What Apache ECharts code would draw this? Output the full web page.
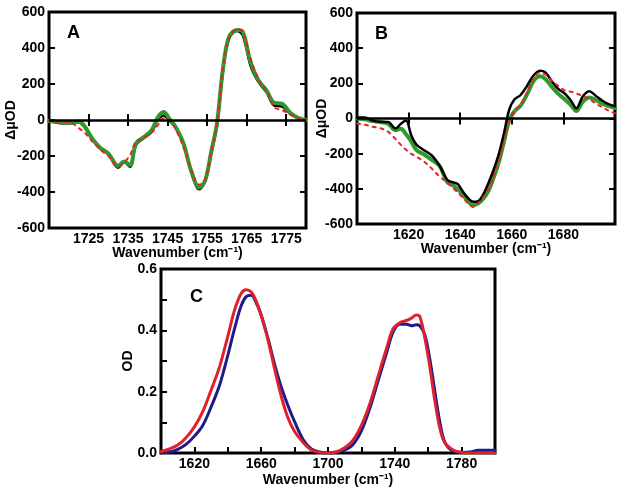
<!DOCTYPE html>
<html>
<head>
<meta charset="utf-8">
<script src="https://cdn.jsdelivr.net/npm/echarts@6/dist/echarts.min.js"></script>
<style>
html,body{margin:0;padding:0;background:#fff;}
#chart{width:624px;height:494px;}
</style>
</head>
<body>
<div id="chart"></div>
<script>
// ---------- Panel A data ----------
const aX = [1715,1717,1719,1721,1722.5,1724,1726,1728,1730,1732.5,1734,1735.5,1737,1739,1741,1742.5,1744,1745.5,1747,1749,1751,1753,1754.5,1756,1757.5,1759,1760.5,1762.5,1764,1766,1768,1770,1772,1774,1776,1778,1780];
const aBlack = [-5,-15,-18,-18,-12,-40,-110,-160,-190,-265,-235,-260,-140,-100,-65,0,25,-5,-40,-135,-290,-385,-340,-190,-30,270,450,495,470,300,210,155,80,75,35,10,0];
const aGreen = [-5,-10,-15,-15,-8,-35,-105,-155,-185,-255,-230,-250,-130,-95,-55,15,45,5,-38,-130,-285,-375,-335,-180,-15,285,460,500,490,320,220,165,95,90,40,12,0];
const aRed   = [-5,-10,-10,-20,-45,-70,-120,-165,-200,-255,-235,-195,-120,-100,-70,-30,10,0,-50,-150,-280,-360,-330,-180,-20,290,455,505,490,340,225,160,70,55,30,10,0];
const aTickLabels = [1725,1735,1745,1755,1765,1775];

// ---------- Panel B data ----------
const bX = [1600,1603,1606,1609,1612,1615,1617,1619,1621,1623,1626,1629,1632,1635,1637,1639,1641,1643,1645,1647,1649,1651,1653,1655,1657,1659,1661,1663.5,1666,1668.5,1671,1673,1675.5,1678,1680.5,1683,1685,1687.5,1690,1692.5,1695,1697.5,1700];
const bBlack = [5,5,-12,-19,-20,-57,-30,-12,-95,-148,-180,-210,-268,-350,-362,-372,-415,-452,-474,-470,-430,-365,-290,-200,-82,50,108,135,188,246,272,262,212,168,142,100,58,125,155,130,102,82,70];
const bGreen = [0,-5,-15,-20,-30,-67,-58,-90,-130,-178,-205,-235,-270,-362,-378,-400,-435,-470,-493,-483,-455,-410,-335,-245,-130,-10,40,75,140,215,240,225,180,140,110,75,42,95,120,105,85,70,60];
const bRed   = [-29,-35,-47,-55,-75,-118,-150,-178,-200,-217,-245,-285,-330,-365,-392,-420,-450,-482,-503,-480,-445,-400,-330,-240,-130,-20,45,80,150,230,262,250,215,185,160,152,142,128,110,85,65,45,30];
const bTickLabels = [1620,1640,1660,1680];

const abYTicks = [-600,-400,-200,0,200,400,600];

// ---------- Panel C data ----------
const cX = [1600,1605,1610,1615,1620,1625,1630,1635,1640,1644,1648,1651,1654,1657,1660,1664,1668,1672,1676,1680,1685,1690,1695,1700,1705,1710,1715,1720,1725,1730,1735,1739,1743,1747,1750,1753,1755,1758,1761,1764,1767,1770,1775,1780,1785,1790,1795,1800];
const cBlue = [0.0,0.003,0.012,0.028,0.055,0.09,0.15,0.22,0.318,0.405,0.48,0.51,0.514,0.49,0.45,0.375,0.29,0.215,0.155,0.102,0.045,0.013,0.003,0.0,0.002,0.01,0.028,0.072,0.145,0.235,0.325,0.395,0.42,0.42,0.415,0.418,0.415,0.385,0.305,0.2,0.1,0.035,0.006,0.002,0.003,0.009,0.009,0.009];
const cRed  = [0.005,0.013,0.026,0.05,0.085,0.135,0.205,0.28,0.38,0.465,0.52,0.532,0.525,0.495,0.448,0.37,0.275,0.185,0.115,0.07,0.035,0.01,0.002,0.0,0.004,0.017,0.042,0.09,0.16,0.25,0.34,0.405,0.425,0.432,0.44,0.45,0.445,0.375,0.28,0.17,0.08,0.033,0.01,0.002,0.0,0.0,0.0,0.0];
const cTickLabels = [1620,1660,1700,1740,1780];
const cYTickLabels = [0.0,0.2,0.4,0.6];

// ---------- helpers ----------
const FONT = "'Liberation Sans', Arial, sans-serif";
const pair = (xs, ys) => xs.map((x, i) => [x, ys[i]]);
const labelStyle = {fontFamily: FONT, fontWeight: 'bold', fontSize: 14, color: '#000'};
const XNAME = 'Wavenumber (cm\u207B\u00B9)';

const grids = [
  {left: 49, top: 12, width: 257, height: 216, show: true, borderColor: '#000', borderWidth: 3, backgroundColor: '#fff'},
  {left: 357, top: 13, width: 258, height: 211, show: true, borderColor: '#000', borderWidth: 3, backgroundColor: '#fff'},
  {left: 161, top: 269, width: 334, height: 184, show: true, borderColor: '#000', borderWidth: 3, backgroundColor: '#fff'}
];

function xAx(gi, min, max, interval, labels, pos, showLabel, name, nameGap) {
  return {
    type: 'value', gridIndex: gi, min: min, max: max, interval: interval, position: pos,
    axisLine: {show: false},
    splitLine: {show: false},
    axisTick: {show: true, inside: true, length: 6, lineStyle: {color: '#000', width: 2}},
    axisLabel: {show: showLabel, margin: 4, ...labelStyle,
      formatter: v => labels.indexOf(Math.round(v)) >= 0 ? String(Math.round(v)) : ''},
    name: name || '', nameLocation: 'middle', nameGap: nameGap || 0, nameMoveOverlap: false,
    nameTextStyle: {...labelStyle}
  };
}
function yAx(gi, min, max, interval, formatter, pos, showLabel, name, nameGap) {
  return {
    type: 'value', gridIndex: gi, min: min, max: max, interval: interval, position: pos,
    axisLine: {show: false},
    splitLine: {show: false},
    axisTick: {show: true, inside: true, length: 6, lineStyle: {color: '#000', width: 2}},
    axisLabel: {show: showLabel, margin: 4, ...labelStyle, formatter: formatter},
    name: name || '', nameLocation: 'middle', nameGap: nameGap || 0, nameRotate: 90, nameMoveOverlap: false,
    nameTextStyle: {...labelStyle}
  };
}
const abYFmt = v => abYTicks.indexOf(Math.round(v)) >= 0 ? String(Math.round(v)) : '';
const cYFmt = v => { const r = Math.round(v * 10); return (r % 2 === 0) ? (r / 10).toFixed(1) : ''; };

const xAxes = [
  xAx(0, 1715, 1780, 10, aTickLabels, 'bottom', true, XNAME, 18),
  xAx(0, 1715, 1780, 10, aTickLabels, 'top', false),
  xAx(1, 1600, 1700, 20, bTickLabels, 'bottom', true, XNAME, 18),
  xAx(1, 1600, 1700, 20, bTickLabels, 'top', false),
  xAx(2, 1600, 1800, 20, cTickLabels, 'bottom', true, XNAME, 20)
];
const yAxes = [
  yAx(0, -600, 600, 200, abYFmt, 'left', true, '\u0394\u03BCOD', 31),
  yAx(0, -600, 600, 200, abYFmt, 'right', false),
  yAx(1, -600, 600, 200, abYFmt, 'left', true, '\u0394\u03BCOD', 28),
  yAx(1, -600, 600, 200, abYFmt, 'right', false),
  yAx(2, 0, 0.6, 0.1, cYFmt, 'left', true, 'OD', 26)
];

function line(name, xi, yi, data, color, width, type, z) {
  return {
    name: name, type: 'line', xAxisIndex: xi, yAxisIndex: yi, data: data,
    smooth: 0.35, symbol: 'none', z: z,
    lineStyle: {color: color, width: width, type: type || 'solid', cap: 'round'}
  };
}
const zeroLine = {
  silent: true, symbol: 'none', label: {show: false},
  lineStyle: {color: '#000', width: 2.5, type: 'solid'},
  data: [{yAxis: 0}]
};

const BLACK = '#000000', GREEN = '#2e9a2e', REDDOT = '#e8202a', NAVY = '#1c1c8a', RED = '#e0202c';

const series = [
  Object.assign(line('A black', 0, 0, pair(aX, aBlack), BLACK, 2.5, 'solid', 2), {markLine: zeroLine}),
  line('A green', 0, 0, pair(aX, aGreen), GREEN, 4, 'solid', 3),
  line('A red', 0, 0, pair(aX, aRed), REDDOT, 2, [3, 5], 4),
  Object.assign(line('B black', 2, 2, pair(bX, bBlack), BLACK, 2.5, 'solid', 3), {markLine: zeroLine}),
  line('B green', 2, 2, pair(bX, bGreen), GREEN, 4, 'solid', 2),
  line('B red', 2, 2, pair(bX, bRed), REDDOT, 2, [3, 5], 4),
  line('C blue', 4, 4, pair(cX, cBlue), NAVY, 3, 'solid', 2),
  line('C red', 4, 4, pair(cX, cRed), RED, 3, 'solid', 3)
];

const chart = echarts.init(document.getElementById('chart'), null, {renderer: 'canvas'});
chart.setOption({
  backgroundColor: '#fff',
  animation: false,
  grid: grids,
  xAxis: xAxes,
  yAxis: yAxes,
  series: series,
  graphic: [
    {type: 'text', left: 67, top: 24, style: {text: 'A', fontFamily: FONT, fontWeight: 'bold', fontSize: 18, fill: '#000'}},
    {type: 'text', left: 375, top: 25, style: {text: 'B', fontFamily: FONT, fontWeight: 'bold', fontSize: 18, fill: '#000'}},
    {type: 'text', left: 190, top: 288, style: {text: 'C', fontFamily: FONT, fontWeight: 'bold', fontSize: 18, fill: '#000'}}
  ]
});
</script>
</body>
</html>
